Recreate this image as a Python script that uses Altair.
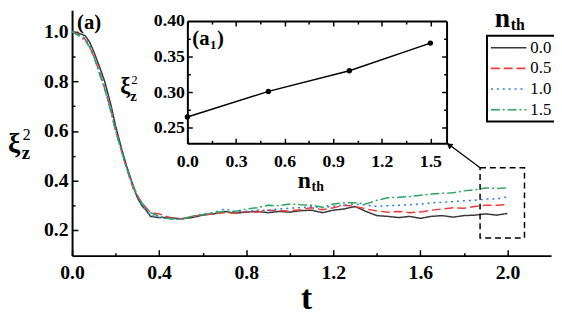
import altair as alt
import pandas as pd

FONT = "Liberation Serif"
W, H = 486, 249

# ---------------- data ----------------
t = [0.0, 0.03, 0.06, 0.08, 0.10, 0.13, 0.15, 0.18, 0.20, 0.23, 0.25, 0.28, 0.30, 0.32, 0.34,
     0.36, 0.40, 0.45, 0.50, 0.55, 0.60, 0.65, 0.70, 0.75, 0.80, 0.85, 0.90, 0.95, 1.00, 1.05,
     1.10, 1.15, 1.20, 1.25, 1.30, 1.35, 1.40, 1.45, 1.50, 1.55, 1.60, 1.65, 1.70, 1.75, 1.80,
     1.85, 1.90, 1.95, 2.00]
xi_n00 = [1.0, 0.995, 0.985, 0.96, 0.92, 0.85, 0.80, 0.70, 0.62, 0.52, 0.46, 0.38, 0.33, 0.30, 0.28,
          0.255, 0.25, 0.25, 0.245, 0.25, 0.26, 0.265, 0.275, 0.268, 0.272, 0.275, 0.27, 0.275, 0.272, 0.278,
          0.28, 0.27, 0.28, 0.285, 0.295, 0.275, 0.258, 0.255, 0.25, 0.255, 0.247, 0.255, 0.258, 0.252, 0.258,
          0.26, 0.265, 0.26, 0.267]
xi_n05 = [1.0, 0.99, 0.97, 0.94, 0.90, 0.83, 0.77, 0.68, 0.60, 0.51, 0.45, 0.37, 0.34, 0.31, 0.29,
          0.27, 0.265, 0.25, 0.245, 0.255, 0.262, 0.265, 0.27, 0.268, 0.275, 0.272, 0.28, 0.278, 0.277, 0.282,
          0.29, 0.282, 0.29, 0.30, 0.295, 0.285, 0.277, 0.272, 0.275, 0.27, 0.273, 0.28, 0.285, 0.29, 0.288,
          0.295, 0.30, 0.30, 0.303]
xi_n10 = [1.0, 0.99, 0.975, 0.95, 0.91, 0.84, 0.78, 0.69, 0.61, 0.52, 0.455, 0.37, 0.33, 0.30, 0.28,
          0.26, 0.25, 0.245, 0.243, 0.255, 0.265, 0.27, 0.285, 0.275, 0.275, 0.28, 0.28, 0.285, 0.288, 0.29,
          0.295, 0.29, 0.296, 0.30, 0.305, 0.30, 0.296, 0.298, 0.30, 0.302, 0.304, 0.31, 0.312, 0.315, 0.318,
          0.32, 0.325, 0.325, 0.335]
xi_n15 = [1.0, 0.985, 0.965, 0.94, 0.90, 0.82, 0.77, 0.67, 0.60, 0.51, 0.45, 0.38, 0.34, 0.31, 0.29,
          0.27, 0.255, 0.245, 0.243, 0.255, 0.262, 0.27, 0.275, 0.275, 0.285, 0.29, 0.30, 0.298, 0.305, 0.302,
          0.30, 0.292, 0.305, 0.31, 0.31, 0.305, 0.32, 0.33, 0.332, 0.335, 0.34, 0.345, 0.348, 0.35, 0.358,
          0.362, 0.37, 0.368, 0.37]

series_names = ["0.0", "0.5", "1.0", "1.5"]
series_colors = ["#383838", "#f23b3b", "#2a7ae2", "#2ea35f"]
series_dash = [[1, 0], [9, 4], [2, 4], [9, 3, 2, 3]]

inset_n = [0.0, 0.5, 1.0, 1.5]
inset_xi = [0.265, 0.301, 0.330, 0.369]

box_x = [1.874, 2.078]
box_y = [0.168, 0.451]
arrow_x = [1.874, 1.722]
arrow_y = [0.451, 0.551]
head_x = [1.732]
head_y = [0.543]

main_x_major = [0.0, 0.4, 0.8, 1.2, 1.6, 2.0]
main_x_all = [0.0, 0.2, 0.4, 0.6, 0.8, 1.0, 1.2, 1.4, 1.6, 1.8, 2.0]
main_y_major = [0.2, 0.4, 0.6, 0.8, 1.0]
main_y_all = [0.2, 0.3, 0.4, 0.5, 0.6, 0.7, 0.8, 0.9, 1.0]
in_x_major = [0.0, 0.3, 0.6, 0.9, 1.2, 1.5]
in_x_all = [0.0, 0.15, 0.3, 0.45, 0.6, 0.75, 0.9, 1.05, 1.2, 1.35, 1.5]
in_y_major = [0.25, 0.30, 0.35, 0.40]
in_y_all = [0.25, 0.275, 0.30, 0.325, 0.35, 0.375]

# ---------------- tables ----------------
rows = []
for name, ys in zip(series_names, [xi_n00, xi_n05, xi_n10, xi_n15]):
    for tv, yv in zip(t, ys):
        rows.append({"t": tv, "xi": yv, "n": name})
df = pd.DataFrame(rows)
inset_df = pd.DataFrame({"n": inset_n, "xi": inset_xi})
box_df = pd.DataFrame({"x1": [box_x[0]], "x2": [box_x[1]], "y1": [box_y[0]], "y2": [box_y[1]]})
arrow_df = pd.DataFrame({"x": arrow_x, "y": arrow_y, "o": [0, 1]})
head_df = pd.DataFrame({"x": head_x, "y": head_y})

sx_main = alt.Scale(domain=[0, 2.2], nice=False, zero=False)
sy_main = alt.Scale(domain=[0.0965, 1.0876], nice=False, zero=False)
sx_in = alt.Scale(domain=[0, 1.6], range=[117, 380], nice=False, zero=False)
sy_in = alt.Scale(domain=[0.228, 0.40], range=[135, 11], nice=False, zero=False)


def ax(orient, offset=0, values=None, labels=False, domain=False, ticks=False,
       test=None, major=6, minor=3, fmt=".1f", lsize=20, lpad=4, lbase=None):
    kw = dict(orient=orient, offset=offset, title=None, grid=False, labels=labels,
              domain=domain, ticks=ticks, domainColor="black", domainWidth=2,
              tickColor="black", tickWidth=1.5)
    if values is not None:
        kw["values"] = values
    if ticks:
        kw["tickSize"] = {"condition": {"test": test, "value": major}, "value": minor} if test else major
    else:
        kw["tickSize"] = 0
    if labels:
        kw.update(labelFont=FONT, labelFontSize=lsize, labelFontWeight="bold",
                  labelColor="black", labelPadding=lpad, format=fmt, labelOverlap=False,
                  labelFlush=False)
        if lbase:
            kw["labelBaseline"] = lbase
    return alt.Axis(**kw)


leg = alt.Legend(orient="none", legendX=421, legendY=26, title=None, strokeColor="black",
                 padding=3, symbolType="stroke", symbolSize=1296, symbolStrokeWidth=1.6,
                 labelFont=FONT, labelFontSize=17, labelColor="black", labelOffset=3,
                 clipHeight=18, rowPadding=3)

main_lines = alt.Chart(df).mark_line(strokeWidth=1.5).encode(
    x=alt.X("t:Q", scale=sx_main,
            axis=ax("bottom", values=main_x_major, labels=True, domain=True, lpad=23, lbase="alphabetic")),
    y=alt.Y("xi:Q", scale=sy_main,
            axis=ax("left", values=main_y_major, labels=True, domain=True, lpad=4)),
    color=alt.Color("n:N", scale=alt.Scale(domain=series_names, range=series_colors), legend=leg),
    strokeDash=alt.StrokeDash("n:N", scale=alt.Scale(domain=series_names, range=series_dash), legend=leg),
)

main_box = alt.Chart(box_df).mark_rect(fill="transparent", stroke="black", strokeWidth=1.5,
                                       strokeDash=[6, 4]).encode(
    x=alt.X("x1:Q", scale=sx_main,
            axis=ax("top", offset=-H, values=main_x_all, ticks=True,
                    test="round(datum.value*10) % 4 == 0")),
    x2="x2:Q",
    y=alt.Y("y1:Q", scale=sy_main,
            axis=ax("right", offset=-W, values=main_y_all, ticks=True,
                    test="round(datum.value*10) % 2 == 0")),
    y2="y2:Q",
)

arrow = alt.Chart(arrow_df).mark_line(color="black", strokeWidth=1.3).encode(
    x=alt.X("x:Q", scale=sx_main, axis=None),
    y=alt.Y("y:Q", scale=sy_main, axis=None),
    order="o:Q",
)
head = alt.Chart(head_df).mark_point(shape="triangle-up", filled=True, color="black", size=45,
                                     angle=306, opacity=1).encode(
    x=alt.X("x:Q", scale=sx_main, axis=None),
    y=alt.Y("y:Q", scale=sy_main, axis=None),
)

ins_line = alt.Chart(inset_df).mark_line(
    color="black", strokeWidth=1.5,
    point=alt.OverlayMarkDef(filled=True, size=30, color="black", opacity=1)).encode(
    x=alt.X("n:Q", scale=sx_in,
            axis=ax("bottom", offset=135 - H, values=in_x_major, labels=True, domain=True,
                    lsize=18, lpad=24, lbase="alphabetic")),
    y=alt.Y("xi:Q", scale=sy_in,
            axis=ax("left", offset=-117, values=in_y_major, labels=True, domain=True,
                    fmt=".2f", lsize=18, lpad=3)),
)

ins_ticks_a = alt.Chart(inset_df).mark_point(opacity=0).encode(
    x=alt.X("n:Q", scale=sx_in,
            axis=ax("top", offset=-135, values=in_x_all, ticks=True,
                    test="round(datum.value*100) % 30 == 0", major=5, minor=3)),
    y=alt.Y("xi:Q", scale=sy_in,
            axis=ax("right", offset=117 - W, values=in_y_all, ticks=True,
                    test="round(datum.value*1000) % 50 == 0", major=5, minor=3)),
)
ins_ticks_b = alt.Chart(inset_df).mark_point(opacity=0).encode(
    x=alt.X("n:Q", scale=sx_in,
            axis=ax("bottom", offset=11 - H, values=in_x_all, ticks=True, domain=True,
                    test="round(datum.value*100) % 30 == 0", major=5, minor=3)),
    y=alt.Y("xi:Q", scale=sy_in,
            axis=ax("left", offset=-380, values=in_y_all, ticks=True, domain=True,
                    test="round(datum.value*1000) % 50 == 0", major=5, minor=3)),
)


def txt(s, x, y, size, weight="bold", align="left"):
    return alt.Chart(alt.Data(values=[{}])).mark_text(
        text=s, font=FONT, fontSize=size, fontWeight=weight, align=align,
        baseline="alphabetic", color="black").encode(x=alt.value(x), y=alt.value(y))


texts = [
    txt("ξ", -65, 144, 28),
    txt("z", -51, 151, 19),
    txt("2", -50, 132, 16, weight="normal"),
    txt("t", 238, 303, 34, align="center"),
    txt("(a)", 5, 19, 21),
    txt("(a", 122, 35, 21),
    txt("1", 140, 39, 13),
    txt(")", 147, 35, 21),
    txt("ξ", 49, 84, 23),
    txt("z", 59, 92, 15),
    txt("2", 60, 75, 13, weight="normal"),
    txt("n", 229, 180, 24),
    txt("th", 243, 183, 14),
    txt("n", 429, 17, 28),
    txt("th", 445, 20, 16),
]

chart = alt.layer(main_lines, main_box, arrow, head, ins_line, ins_ticks_a, ins_ticks_b, *texts).resolve_scale(
    x="independent", y="independent"
).properties(
    width=W, height=H,
    padding={"left": 65, "top": 0, "right": 3, "bottom": 58},
    autosize=alt.AutoSizeParams(type="none"),
).configure(font=FONT).configure_view(stroke=None).configure_axis(
    labelFont=FONT
).configure_legend(strokeWidth=2, labelFont=FONT)

chart.save("out.html", embed_options={"renderer": "svg", "actions": False})
